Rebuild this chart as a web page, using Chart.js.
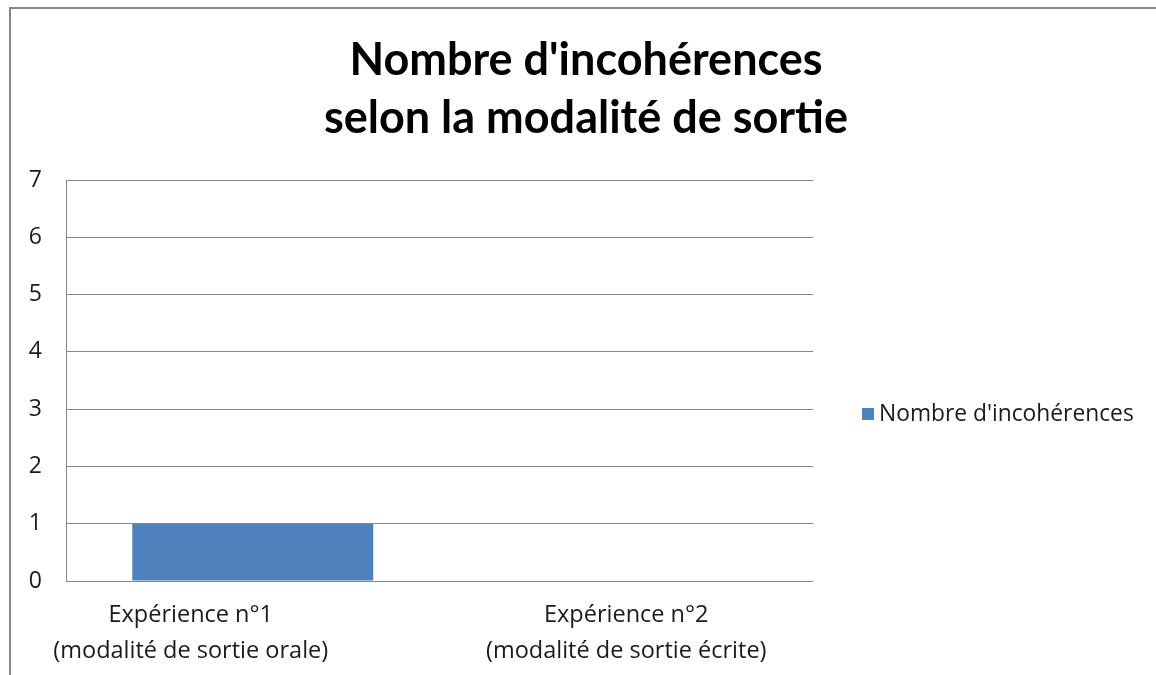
<!DOCTYPE html>
<html>
<head>
<meta charset="utf-8">
<script src="https://cdn.jsdelivr.net/npm/chart.js@4"></script>
<style>
  html, body { margin: 0; padding: 0; background: #fff; overflow: hidden; }
  #frame {
    position: absolute; left: 9px; top: 7px;
    border-left: 2px solid #868686; border-top: 2px solid #868686;
    width: 1150px; height: 670px;
  }
  #chart { display: block; }
</style>
</head>
<body>
<div id="frame"><canvas id="chart" width="1150" height="668"></canvas></div>
<script>
const categories = [
  ['Expérience n°1', '(modalité de sortie orale)'],
  ['Expérience n°2', '(modalité de sortie écrite)']
];
const incoherences = [1, 0];
const seriesLabel = "Nombre d'incohérences";
const titleLines = ["Nombre d'incohérences", 'selon la modalité de sortie'];
const yMax = 7;

const textFont = '23.5px "Open Sans"';

// title centred on the whole chart, not only on the plot
const wideTitle = {
  id: 'wideTitle',
  afterDraw(chart) {
    const { ctx, width } = chart;
    ctx.save();
    ctx.fillStyle = '#000';
    ctx.font = 'bold 45px Lato';
    ctx.textAlign = 'center';
    ctx.textBaseline = 'middle';
    titleLines.forEach((line, i) => ctx.fillText(line, width / 2, 51 + i * 58));
    ctx.restore();
  }
};

// category labels: the office chart pushes the first one to the left
const catLabels = {
  id: 'catLabels',
  afterDraw(chart) {
    const { ctx } = chart;
    const xs = chart.scales.x;
    ctx.save();
    ctx.fillStyle = '#1a1a1a';
    ctx.font = textFont;
    ctx.textAlign = 'center';
    ctx.textBaseline = 'middle';
    chart.data.labels.forEach((lines, i) => {
      const cx = xs.getPixelForTick(i) - (i === 0 ? 62 : 0);
      lines.forEach((t, j) => ctx.fillText(t, cx, xs.top + 34 + j * 36));
    });
    ctx.restore();
  }
};

// legend drawn by hand, to the right of the plot, like the office chart
const sideLegend = {
  id: 'sideLegend',
  afterDraw(chart) {
    const { ctx, chartArea } = chart;
    const ds = chart.data.datasets[0];
    const x = chartArea.right + 49;
    const y = chartArea.top + 234;
    ctx.save();
    ctx.fillStyle = ds.backgroundColor;
    ctx.fillRect(x, y - 6, 12, 12);
    ctx.fillStyle = '#1a1a1a';
    ctx.font = '22.8px "Open Sans"';
    ctx.textBaseline = 'middle';
    ctx.fillText(ds.label, x + 17, y + 1);
    ctx.restore();
  }
};

const ctx = document.getElementById('chart').getContext('2d');
const chart = new Chart(ctx, {
  type: 'bar',
  data: {
    labels: categories,
    datasets: [{
      label: seriesLabel,
      data: incoherences,
      backgroundColor: '#4F81BD',
      barPercentage: 0.645,
      categoryPercentage: 1
    }]
  },
  options: {
    responsive: false,
    animation: false,
    layout: { padding: { left: 0, right: 348, top: 171, bottom: 0 } },
    plugins: {
      legend: { display: false },
      tooltip: { enabled: false },
      title: { display: false }
    },
    scales: {
      x: {
        grid: { display: false },
        border: { display: false },
        ticks: { display: false },
        afterFit(scale) { scale.height = 96; }
      },
      y: {
        min: 0,
        max: yMax,
        ticks: {
          stepSize: 1,
          color: '#1a1a1a',
          font: { family: 'Open Sans', size: 23 },
          padding: 24
        },
        grid: { color: '#868686', lineWidth: 1, drawTicks: false },
        border: { display: true, color: '#868686', width: 1 },
        afterFit(scale) { scale.width = 55; }
      }
    }
  },
  plugins: [wideTitle, catLabels, sideLegend]
});
</script>
</body>
</html>
